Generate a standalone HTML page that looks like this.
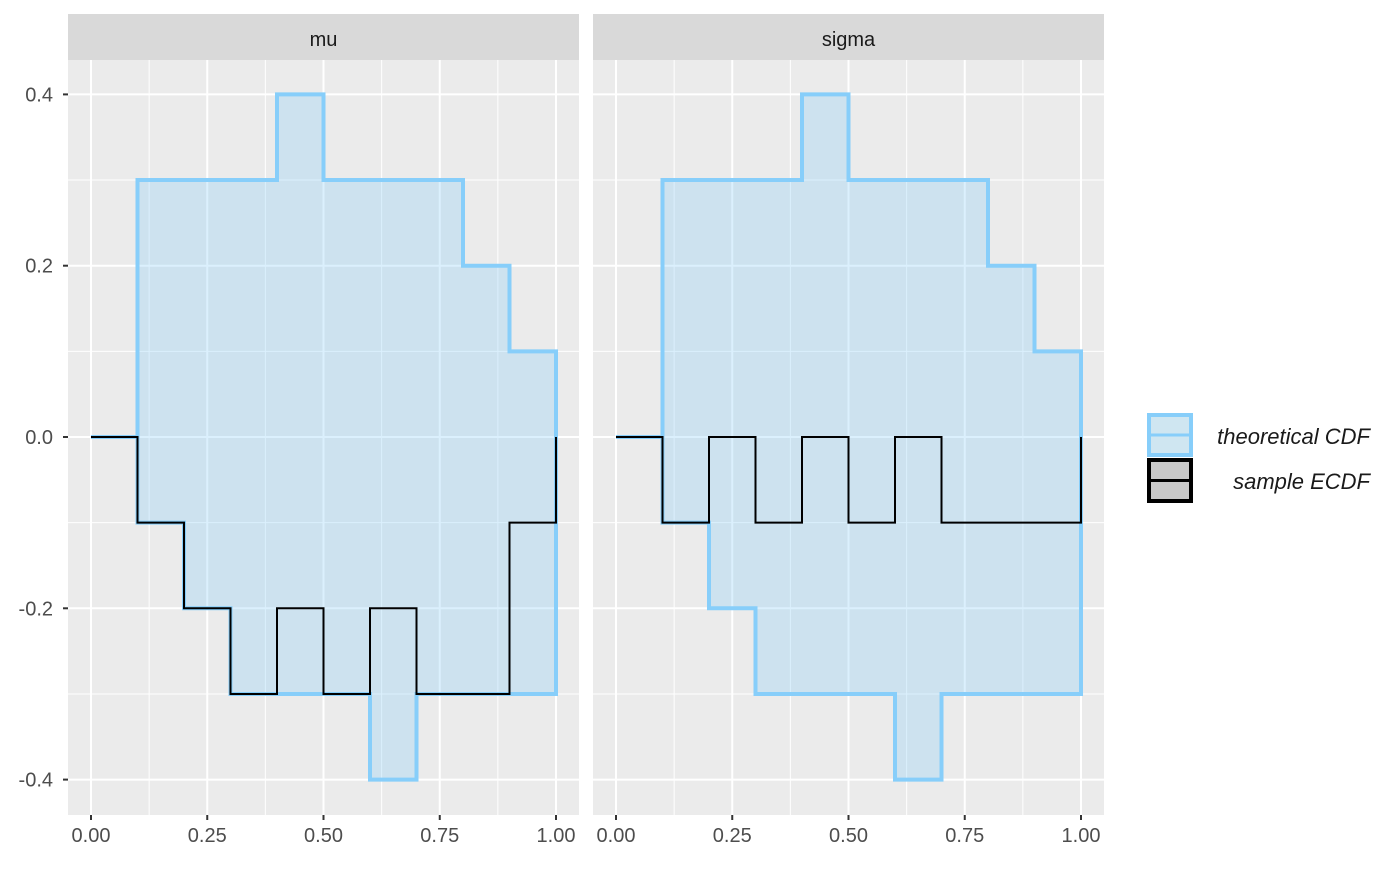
<!DOCTYPE html>
<html><head><meta charset="utf-8"><style>
body{margin:0;background:#fff;}
text{font-family:"Liberation Sans",Arial,sans-serif;}
</style></head><body>
<svg id="chart" width="1400" height="865" xmlns="http://www.w3.org/2000/svg"></svg>
<script>
const panels = ["mu","sigma"];
const steps = [0,0.1,0.2,0.3,0.4,0.5,0.6,0.7,0.8,0.9];
const upperBand = [0,0.3,0.3,0.3,0.4,0.3,0.3,0.3,0.2,0.1];
const lowerBand = [0,-0.1,-0.2,-0.3,-0.3,-0.3,-0.4,-0.3,-0.3,-0.3];
const ecdfMu = [0,-0.1,-0.2,-0.3,-0.2,-0.3,-0.2,-0.3,-0.3,-0.1];
const ecdfSigma = [0,-0.1,0,-0.1,0,-0.1,0,-0.1,-0.1,-0.1];
const ecdfEnd = [0,0];
const xTicks = [0,0.25,0.5,0.75,1];
const xTickLabels = ["0.00","0.25","0.50","0.75","1.00"];
const yTicks = [-0.4,-0.2,0,0.2,0.4];
const yTickLabels = ["-0.4","-0.2","0.0","0.2","0.4"];

const NS="http://www.w3.org/2000/svg";
const svg=document.getElementById('chart');
function mk(tag,attrs,parent){const e=document.createElementNS(NS,tag);for(const k in attrs)e.setAttribute(k,attrs[k]);(parent||svg).appendChild(e);return e;}
const plotTop=60,plotBottom=815;
const yS=v=>437-v*856.5;
const panelX=[68,593], pw=511;
const ecdfs=[ecdfMu,ecdfSigma];
panels.forEach((name,pi)=>{
  const px=panelX[pi];
  const xS=v=>px+23+v*465;
  const g=mk('g',{});
  
  
  mk('rect',{x:px,y:plotTop,width:pw,height:plotBottom-plotTop,fill:'#EBEBEB'},g);
  const st=mk('rect',{x:px,y:14,width:pw,height:46,fill:'#D9D9D9'},g);
  
  
  const stt=mk('text',{x:px+pw/2,y:46,'text-anchor':'middle','font-size':20,fill:'#1a1a1a'},g);stt.textContent=name;
  
  
  for(let i=0;i<xTicks.length-1;i++){const v=(xTicks[i]+xTicks[i+1])/2;mk('line',{x1:xS(v),x2:xS(v),y1:plotTop,y2:plotBottom,stroke:'#fff','stroke-width':1},g);}
  for(let i=0;i<yTicks.length-1;i++){const v=(yTicks[i]+yTicks[i+1])/2;mk('line',{x1:px,x2:px+pw,y1:yS(v),y2:yS(v),stroke:'#fff','stroke-width':1},g);}
  xTicks.forEach((v,i)=>{mk('line',{x1:xS(v),x2:xS(v),y1:plotTop,y2:plotBottom,stroke:'#fff','stroke-width':2},g);
    mk('line',{x1:xS(v),x2:xS(v),y1:plotBottom,y2:plotBottom+5,stroke:'#333','stroke-width':2},g);
    const t=mk('text',{x:xS(v),y:842,'text-anchor':'middle','font-size':20,fill:'#4d4d4d'},g);t.textContent=xTickLabels[i];
    
    });
  yTicks.forEach((v,i)=>{mk('line',{x1:px,x2:px+pw,y1:yS(v),y2:yS(v),stroke:'#fff','stroke-width':2},g);
    if(pi===0){mk('line',{x1:px-5,x2:px,y1:yS(v),y2:yS(v),stroke:'#333','stroke-width':2},g);
    const t=mk('text',{x:px-15,y:yS(v)+7,'text-anchor':'end','font-size':20,fill:'#4d4d4d'},g);t.textContent=yTickLabels[i];
    
    }});
  let up=[],lo=[];
  steps.forEach((s,i)=>{const e=i<steps.length-1?steps[i+1]:1;up.push([xS(s),yS(upperBand[i])],[xS(e),yS(upperBand[i])]);lo.push([xS(s),yS(lowerBand[i])],[xS(e),yS(lowerBand[i])]);});
  const pts=up.concat(lo.slice().reverse());
  const band=mk('polygon',{points:pts.map(p=>p.join(',')).join(' '),fill:'#87CEFA','fill-opacity':0.3,stroke:'#87CEFA','stroke-width':4},g);
  
  
  const ec=ecdfs[pi];let d='';
  steps.forEach((s,i)=>{const e=i<steps.length-1?steps[i+1]:1;d+=(i?'L':'M')+xS(s)+','+yS(ec[i])+'L'+xS(e)+','+yS(ec[i]);});
  d+='L'+xS(1)+','+yS(ecdfEnd[pi]);
  const ln=mk('path',{d:d,fill:'none',stroke:'#000','stroke-width':2},g);
  
  
});
const lg=mk('g',{});


mk('rect',{x:1149,y:415,width:42,height:40,fill:'#cfe6f1',stroke:'#87CEFA','stroke-width':4},lg);
mk('line',{x1:1151,x2:1189,y1:435,y2:435,stroke:'#87CEFA','stroke-width':3},lg);
mk('rect',{x:1149,y:460,width:42,height:41,fill:'#c8c8c8',stroke:'#000','stroke-width':4},lg);
mk('line',{x1:1151,x2:1189,y1:480.5,y2:480.5,stroke:'#000','stroke-width':3},lg);
const l1=mk('text',{x:1370,y:444,'text-anchor':'end','font-size':22,'font-style':'italic',fill:'#1a1a1a'},lg);l1.textContent='theoretical CDF';


const l2=mk('text',{x:1370,y:489,'text-anchor':'end','font-size':22,'font-style':'italic',fill:'#1a1a1a'},lg);l2.textContent='sample ECDF';


</script>
</body></html>
